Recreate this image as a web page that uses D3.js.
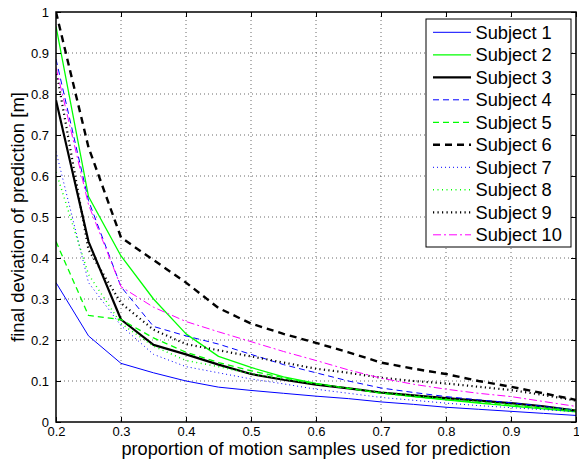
<!DOCTYPE html>
<html><head><meta charset="utf-8">
<script src="https://cdn.jsdelivr.net/npm/d3@7"></script>
<style>body{margin:0;background:#fff}svg{display:block}text{font-family:"Liberation Sans",Arial,sans-serif}</style>
</head><body>
<svg id="c" width="579" height="460"></svg>
<script>
const xValues = [0.2,0.25,0.3,0.35,0.4,0.45,0.5,0.55,0.6,0.65,0.7,0.75,0.8,0.85,0.9,0.95,1.0];
const subject1  = [0.34,0.21,0.143,0.12,0.10,0.085,0.077,0.07,0.063,0.057,0.049,0.043,0.036,0.031,0.026,0.021,0.016];
const subject2  = [0.965,0.55,0.405,0.30,0.215,0.16,0.133,0.11,0.094,0.082,0.071,0.062,0.054,0.046,0.039,0.032,0.025];
const subject3  = [0.785,0.44,0.25,0.188,0.165,0.14,0.117,0.103,0.091,0.082,0.072,0.065,0.058,0.052,0.046,0.038,0.028];
const subject4  = [0.885,0.54,0.33,0.233,0.21,0.19,0.165,0.14,0.12,0.10,0.083,0.072,0.062,0.054,0.047,0.038,0.029];
const subject5  = [0.44,0.26,0.25,0.205,0.17,0.145,0.125,0.108,0.093,0.082,0.07,0.062,0.055,0.048,0.041,0.034,0.027];
const subject6  = [1.0,0.67,0.45,0.395,0.34,0.278,0.24,0.215,0.193,0.17,0.145,0.13,0.117,0.10,0.086,0.07,0.054];
const subject7  = [0.66,0.34,0.235,0.165,0.135,0.12,0.105,0.093,0.08,0.07,0.06,0.053,0.046,0.04,0.035,0.03,0.025];
const subject8  = [0.61,0.36,0.24,0.185,0.15,0.135,0.118,0.105,0.093,0.083,0.073,0.065,0.057,0.05,0.043,0.036,0.03];
const subject9  = [0.86,0.42,0.29,0.225,0.19,0.175,0.16,0.145,0.13,0.12,0.108,0.1,0.094,0.086,0.078,0.066,0.052];
const subject10 = [0.865,0.53,0.33,0.28,0.245,0.22,0.196,0.172,0.15,0.127,0.107,0.092,0.08,0.07,0.062,0.05,0.038];
const seriesNames = ["Subject 1","Subject 2","Subject 3","Subject 4","Subject 5","Subject 6","Subject 7","Subject 8","Subject 9","Subject 10"];
const xTicks = [0.2,0.3,0.4,0.5,0.6,0.7,0.8,0.9,1];
const yTicks = [0,0.1,0.2,0.3,0.4,0.5,0.6,0.7,0.8,0.9,1];
const xLabel = "proportion of motion samples used for prediction";
const yLabel = "final deviation of prediction [m]";

const allSeries = [subject1,subject2,subject3,subject4,subject5,subject6,subject7,subject8,subject9,subject10];
const styles = [
  {c:"#0000ff", w:1, d:null},
  {c:"#00ff00", w:1.3, d:null},
  {c:"#000000", w:2.2, d:null},
  {c:"#0000ff", w:1, d:"6,4"},
  {c:"#00ff00", w:1.3, d:"6,4"},
  {c:"#000000", w:2.4, d:"7,5"},
  {c:"#0000ff", w:1, d:"1,3"},
  {c:"#00ff00", w:1.5, d:"1,3.5"},
  {c:"#000000", w:2.2, d:"1.2,3.3"},
  {c:"#ff00ff", w:1, d:"8,3,2,3"}
];

const svg = d3.select("#c");
const L=56, R=576, T=12, B=422;
const x = d3.scaleLinear().domain([0.2,1]).range([L,R]);
const y = d3.scaleLinear().domain([0,1]).range([B,T]);

// grid
const g = svg.append("g");
g.selectAll(".gx").data(xTicks.slice(1,-1)).enter().append("line")
  .attr("x1",d=>x(d)).attr("x2",d=>x(d)).attr("y1",T).attr("y2",B)
  .attr("stroke","#444").attr("stroke-width",0.8).attr("stroke-dasharray","1,3");
g.selectAll(".gy").data(yTicks.slice(1,-1)).enter().append("line")
  .attr("y1",d=>y(d)).attr("y2",d=>y(d)).attr("x1",L).attr("x2",R)
  .attr("stroke","#444").attr("stroke-width",0.8).attr("stroke-dasharray","1,3");

// lines
const line = d3.line().x((d,i)=>x(xValues[i])).y(d=>y(d));
svg.append("defs").append("clipPath").attr("id","clip").append("rect")
  .attr("x",L).attr("y",T-2).attr("width",R-L).attr("height",B-T+2);
const lg = svg.append("g").attr("clip-path","url(#clip)");
allSeries.forEach((s,k)=>{
  const st = styles[k];
  lg.append("path").attr("d",line(s)).attr("fill","none")
    .attr("stroke",st.c).attr("stroke-width",st.w)
    .attr("stroke-dasharray",st.d)
    .attr("stroke-linejoin","round");
});

// axes
const fs = 13;
const xAxis = d3.axisBottom(x).tickValues(xTicks).tickSize(-5).tickPadding(5).tickFormat(d3.format("~g"));
const yAxis = d3.axisLeft(y).tickValues(yTicks).tickSize(-5).tickPadding(7).tickFormat(d3.format("~g"));
const xa = svg.append("g").attr("transform",`translate(0,${B})`).call(xAxis);
const ya = svg.append("g").attr("transform",`translate(${L},0)`).call(yAxis);
const xt = svg.append("g").attr("transform",`translate(0,${T})`).call(d3.axisTop(x).tickValues(xTicks).tickSize(-5).tickFormat(""));
const yr = svg.append("g").attr("transform",`translate(${R},0)`).call(d3.axisRight(y).tickValues(yTicks).tickSize(-5).tickFormat(""));
[xa,ya,xt,yr].forEach(a=>{
  a.select(".domain").remove();
  a.selectAll("line").attr("stroke","#000").attr("stroke-width",1);
  a.selectAll("text").attr("font-size",fs).attr("fill","#000").attr("font-family","Liberation Sans, Arial, sans-serif");
});
svg.append("rect").attr("x",L).attr("y",T).attr("width",R-L).attr("height",B-T)
  .attr("fill","none").attr("stroke","#000").attr("stroke-width",1.5);

// axis labels
svg.append("text").attr("x",(L+R)/2).attr("y",455).attr("text-anchor","middle")
  .attr("font-size",18.2).text(xLabel);
svg.append("text").attr("transform",`translate(24,${(T+B)/2}) rotate(-90)`).attr("text-anchor","middle")
  .attr("font-size",18.5).text(yLabel);

// legend
const lx=426, ly=19, lw=145, lh=228;
const leg = svg.append("g");
leg.append("rect").attr("x",lx).attr("y",ly).attr("width",lw).attr("height",lh)
  .attr("fill","#fff").attr("stroke","#000").attr("stroke-width",1);
seriesNames.forEach((n,k)=>{
  const yy = 32.3 + k*22.5;
  const st = styles[k];
  leg.append("line").attr("x1",433).attr("x2",471).attr("y1",yy).attr("y2",yy)
    .attr("stroke",st.c).attr("stroke-width",st.w).attr("stroke-dasharray",st.d);
  leg.append("text").attr("x",475.5).attr("y",yy+6.5).attr("font-size",18.3).text(n);
});
</script>
</body></html>
